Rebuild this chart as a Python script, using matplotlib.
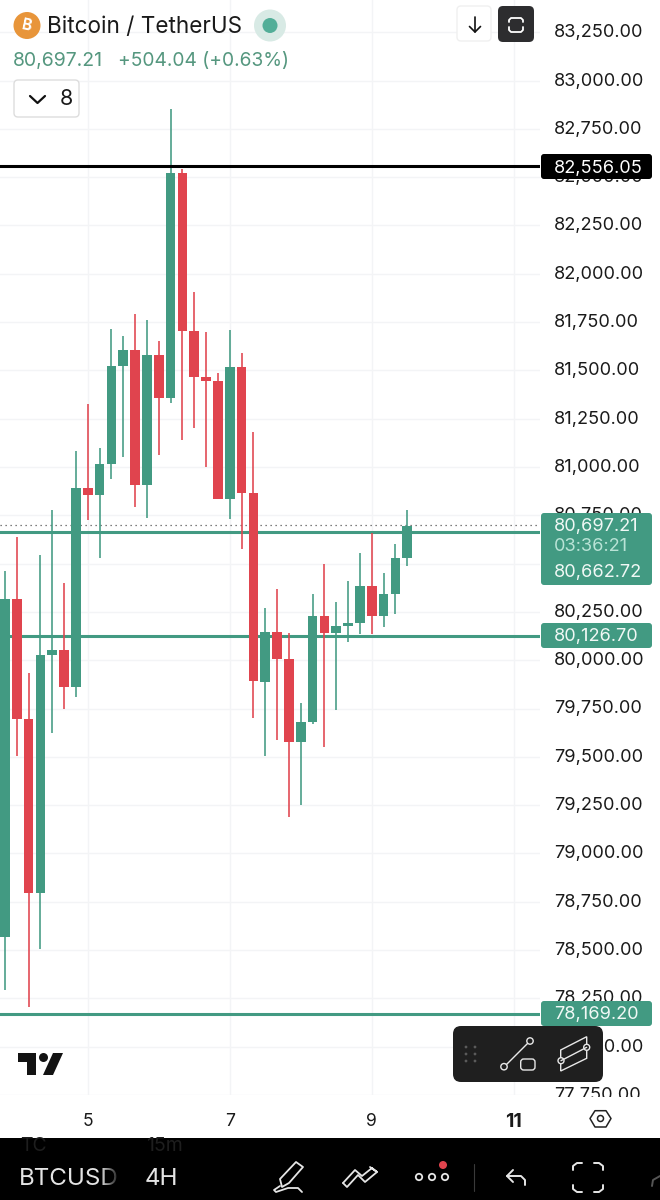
import numpy as np
import matplotlib
matplotlib.use("Agg")
import matplotlib.pyplot as plt
from matplotlib.patches import FancyBboxPatch, Circle, Polygon, Rectangle
from matplotlib.transforms import Bbox, ScaledTranslation

plt.rcParams['font.family'] = ['Inter', 'DejaVu Sans']

# 4H candles, the first one opens at day 5 minus seven bars
opens = [78569, 80317, 79697, 78793, 80028, 80051, 79860, 80893, 80854, 81016, 81524, 81606,
         80907, 81581, 81359, 82522, 81704, 81466, 81445, 80834, 81518, 80867, 79889, 80144,
         80005, 79578, 79682, 80230, 80142, 80179, 80194, 80384, 80229, 80344, 80527]
closes = [80317, 79697, 78793, 80028, 80051, 79860, 80893, 80854, 81016, 81524, 81606, 80907,
          81581, 81359, 82522, 81704, 81466, 81445, 80834, 81518, 80867, 79891, 80144, 80005,
          79578, 79682, 80230, 80142, 80179, 80194, 80384, 80229, 80344, 80527, 80697]
highs = [80460, 80636, 79932, 80545, 80777, 80398, 81084, 81326, 81097, 81713, 81680, 81792,
         81761, 81651, 82851, 82541, 81907, 81700, 81488, 81709, 81589, 81181, 80269, 80370,
         80142, 79780, 80341, 80498, 80301, 80410, 80553, 80660, 80453, 80600, 80777]
lows = [78293, 79504, 78203, 78504, 79622, 79746, 79808, 80726, 80531, 80936, 81050, 80791,
        80734, 81061, 81330, 81140, 81200, 81002, 80834, 80729, 80574, 79702, 79504, 79587,
        79187, 79251, 79668, 79552, 79742, 80093, 80136, 80136, 80170, 80238, 80489]
bar_days = 5 + (np.arange(len(opens)) - 7) / 6

price_ticks = list(range(77750, 83251, 250))
price_tick_labels = [f"{p:,.2f}" for p in price_ticks]
day_ticks = [5, 7, 9, 11]
day_labels = ['5', '7', '9', '11']

last_price = 80697.21
black_level = 82556.05
green_levels = [80662.72, 80126.70, 78169.20]

GREEN = '#429A82'
RED = '#E0444E'
GRID = '#F3F4F6'
TXT = '#1A1A1A'
TAG = '#429A82'
PRICE_FS = 13.1

fig = plt.figure(figsize=(6.6, 12), dpi=100, facecolor='white')
# main axes spans 0..540 px horizontally and 0..1095 px from the top
ax = fig.add_axes([0, (1200 - 1095) / 1200, 540 / 660, 1095 / 1200])
ax.set_xlim(5 - 87.7 / 71, 5 + (540 - 87.7) / 71)
ax.set_ylim(81000 - (1095 - 467) / 0.1932, 81000 + 467 / 0.1932)
for s in ax.spines.values():
    s.set_visible(False)
ax.yaxis.tick_right()
ax.set_yticks(price_ticks, price_tick_labels)
ax.set_xticks(day_ticks, day_labels)
ax.tick_params(axis='y', length=0, pad=10, labelsize=PRICE_FS, labelcolor=TXT)
ax.tick_params(axis='x', length=0, pad=13, labelsize=12.6, labelcolor=TXT)
ax.get_xticklabels()[3].set_fontweight('bold')
ax.get_xticklabels()[3].set_fontsize(14)
ax.grid(True, color=GRID, lw=1.0)
ax.set_axisbelow(True)
clip = Bbox([[0, 1200 - 1096.5], [660, 1200]])
nudge = ScaledTranslation(0, 1.5 / 100, fig.dpi_scale_trans)
for lab in ax.get_yticklabels():
    lab.set_transform(lab.get_transform() + nudge)
    lab.set_clip_box(clip)
    lab.set_clip_on(True)

# levels under the candles
for lv in green_levels:
    ax.axhline(lv, color=GREEN, lw=2.2, zorder=1.5)
ax.axhline(last_price, color='#555555', lw=0.9, ls=(0, (1, 3)), zorder=1.4)

cols = [GREEN if c >= o else RED for o, c in zip(opens, closes)]
ax.vlines(bar_days, lows, highs, colors=cols, lw=1.15, zorder=2)
ax.bar(bar_days, np.abs(np.array(closes) - np.array(opens)),
       bottom=np.minimum(opens, closes), width=9.6 / 71, color=cols, zorder=2.2)
ax.axhline(black_level, color='black', lw=2.2, zorder=2.4)

# overlay in pixel coordinates for the app's interface
ov = fig.add_axes([0, 0, 1, 1])
ov.set_xlim(0, 660)
ov.set_ylim(1200, 0)
ov.axis('off')
ov.patch.set_visible(False)


def rbox(x0, y0, x1, y1, r=3, **kw):
    p = FancyBboxPatch((x0 + r, y0 + r), x1 - x0 - 2 * r, y1 - y0 - 2 * r,
                       boxstyle=f"round,pad={r},rounding_size={r}", **kw)
    ov.add_patch(p)
    return p


def line(xs, ys, c='white', lw=1.3):
    ov.plot(xs, ys, color=c, lw=lw, solid_capstyle='round', solid_joinstyle='round')


def ring(x, y, r, fc='none', ec='white', lw=1.2):
    ov.add_patch(Circle((x, y), r, fc=fc, ec=ec, lw=lw))


# price tags
rbox(541, 154, 652, 179, fc='black', ec='none')
ov.text(554, 168, f"{black_level:,.2f}", color='white', fontsize=PRICE_FS, va='center')
rbox(541, 513, 652, 585, fc=TAG, ec='none')
ov.text(554, 526.5, f"{last_price:,.2f}", color='#F0F8F5', fontsize=PRICE_FS, va='center')
ov.text(554, 546.5, "03:36:21", color='#B9E3D6', fontsize=PRICE_FS, va='center')
ov.text(554, 572, f"{green_levels[0]:,.2f}", color='#F0F8F5', fontsize=PRICE_FS, va='center')
rbox(541, 623, 652, 648, fc=TAG, ec='none')
ov.text(554, 636.5, f"{green_levels[1]:,.2f}", color='#F0F8F5', fontsize=PRICE_FS, va='center')
rbox(541, 1001, 652, 1026, fc=TAG, ec='none')
ov.text(554, 1014.5, f"{green_levels[2]:,.2f}", color='#F0F8F5', fontsize=PRICE_FS, va='center')

# header
ring(27, 25.5, 13.5, fc='#E8953A', ec='none', lw=0)
ov.text(27, 25.5, "B", color='white', fontsize=11, fontweight='bold', ha='center', va='center', rotation=-12)
ov.text(47, 27, "Bitcoin / TetherUS", color=TXT, fontsize=16.2, va='center')
ring(270, 25.5, 16, fc='#D8EAE5', ec='none', lw=0)
ring(270, 25.5, 7.5, fc='#52AE98', ec='none', lw=0)
ov.text(13, 61, "80,697.21", color='#55977F', fontsize=14, va='center')
ov.text(118, 61, "+504.04 (+0.63%)", color='#55977F', fontsize=13.8, va='center')
rbox(14, 80, 79, 117, r=4, fc='white', ec='#DDDDDD', lw=1)
line([30, 37.5, 45], [96, 103, 96], c='#111111', lw=1.6)
ov.text(66, 99, "8", color=TXT, fontsize=15.5, ha='center', va='center')

# top buttons
rbox(457, 6, 491, 41, r=4, fc='white', ec='#F0F0F0', lw=1)
line([475, 475], [17, 32], c='#111111', lw=1.2)
line([469.5, 475, 480.5], [26.5, 32, 26.5], c='#111111', lw=1.2)
rbox(498, 6, 534, 42, r=5, fc='#2D2D2F', ec='none')
line([509, 509, 511, 521, 523, 523], [22, 20, 18, 18, 20, 22], lw=1.3)
line([509, 509, 511, 521, 523, 523], [27, 30, 32, 32, 30, 27], lw=1.3)

# TradingView logo
ov.add_patch(Polygon([(18, 1053), (36, 1053), (36, 1075), (27, 1075), (27, 1062), (18, 1062)], fc='#131313', ec='none'))
ring(43.5, 1057.5, 4.5, fc='#131313', ec='none', lw=0)
ov.add_patch(Polygon([(53, 1053), (63, 1053), (53, 1075), (43, 1075)], fc='#131313', ec='none'))

# floating toolbar
rbox(453, 1026, 603, 1082, r=8, fc='#1F1F1F', ec='none')
for dx in (466, 475):
    for dy in (1047, 1054, 1061):
        ov.add_patch(Circle((dx, dy), 1.4, fc='#5A5A5A', ec='none'))
C = '#E8E8E8'
line([506.5, 527.5], [1064.5, 1043.5], c=C, lw=1)
ring(504, 1066.7, 3.2, fc='#1F1F1F', ec=C, lw=1)
ring(530, 1041, 3.2, fc='#1F1F1F', ec=C, lw=1)
rbox(520.7, 1059, 535, 1070, r=3, fc='none', ec=C, lw=1)
ov.add_patch(Polygon([(560.7, 1050), (586.7, 1036.7), (586.7, 1058.3), (560.7, 1071)], fc='none', ec=C, lw=1))
line([561, 586.7], [1060.7, 1047.3], c=C, lw=1)
ring(561, 1060.7, 3, fc='#1F1F1F', ec=C, lw=1)
ring(586.7, 1047.3, 3, fc='#1F1F1F', ec=C, lw=1)

# axis settings hexagon
ov.add_patch(Polygon([(590, 1118.5), (595, 1110.7), (606, 1110.7), (611, 1118.5), (606, 1127), (595, 1127)],
                     fc='none', ec='#222222', lw=1.1, joinstyle='round'))
ring(600.5, 1118.5, 3, ec='#222222', lw=1.1)

# bottom bar
ov.add_patch(Rectangle((0, 1138), 660, 62, fc='black', ec='none'))
t1 = ov.text(20, 1146, "TC", color='#1E1E1E', fontsize=14, va='center')
t2 = ov.text(146, 1146, "15m", color='#1E1E1E', fontsize=14, va='center')
bar_clip = Rectangle((0, 1138), 660, 62, transform=ov.transData)
t1.set_clip_path(bar_clip)
t2.set_clip_path(bar_clip)
ov.text(19, 1179, "BTCUSD", color='#E4E4E4', fontsize=17.4, va='center')
ov.text(145, 1179, "4H", color='#E4E4E4', fontsize=17.4, va='center')
grad = np.zeros((1, 40, 4))
grad[0, :, 3] = np.linspace(0, 0.95, 40)
ov.imshow(grad, extent=(100, 120, 1192, 1165), aspect='auto', zorder=5)
ov.set_xlim(0, 660)
ov.set_ylim(1200, 0)

W = '#E6E6E6'
ov.add_patch(Polygon([(296, 1162), (303, 1167), (289, 1183), (282, 1187), (280, 1179)], fc='none', ec=W, lw=1.3, joinstyle='round'))
line([280, 274, 276, 288, 298, 302], [1186, 1190, 1192, 1188, 1188, 1192], c=W)
line([343, 355, 362, 372, 377, 370], [1183, 1170, 1176, 1168, 1172, 1167], c=W)
line([343, 347, 358, 365, 377], [1183, 1187, 1175, 1182, 1172], c=W)
for cx in (419, 432, 445):
    ring(cx, 1177, 3.2, ec=W, lw=1.3)
ov.add_patch(Circle((443, 1165), 4, fc=RED, ec='none'))
line([473.5, 473.5], [1164, 1191], c='#3A3A3A', lw=0.8)
line([507, 514, 521, 525, 525], [1176, 1176, 1176, 1180, 1185], c=W, lw=1.4)
line([513, 507, 513], [1170, 1176, 1182], c=W, lw=1.4)
line([573, 573, 577, 582], [1170, 1166, 1163, 1163], c=W, lw=1.4)
line([594, 599, 603, 603], [1163, 1163, 1166, 1170], c=W, lw=1.4)
line([573, 573, 577, 582], [1185, 1189, 1192, 1192], c=W, lw=1.4)
line([594, 599, 603, 603], [1192, 1192, 1189, 1185], c=W, lw=1.4)
line([652, 653, 660], [1186, 1180, 1176], c='#555555', lw=1.4)

fig.savefig('out.png', dpi=100)
